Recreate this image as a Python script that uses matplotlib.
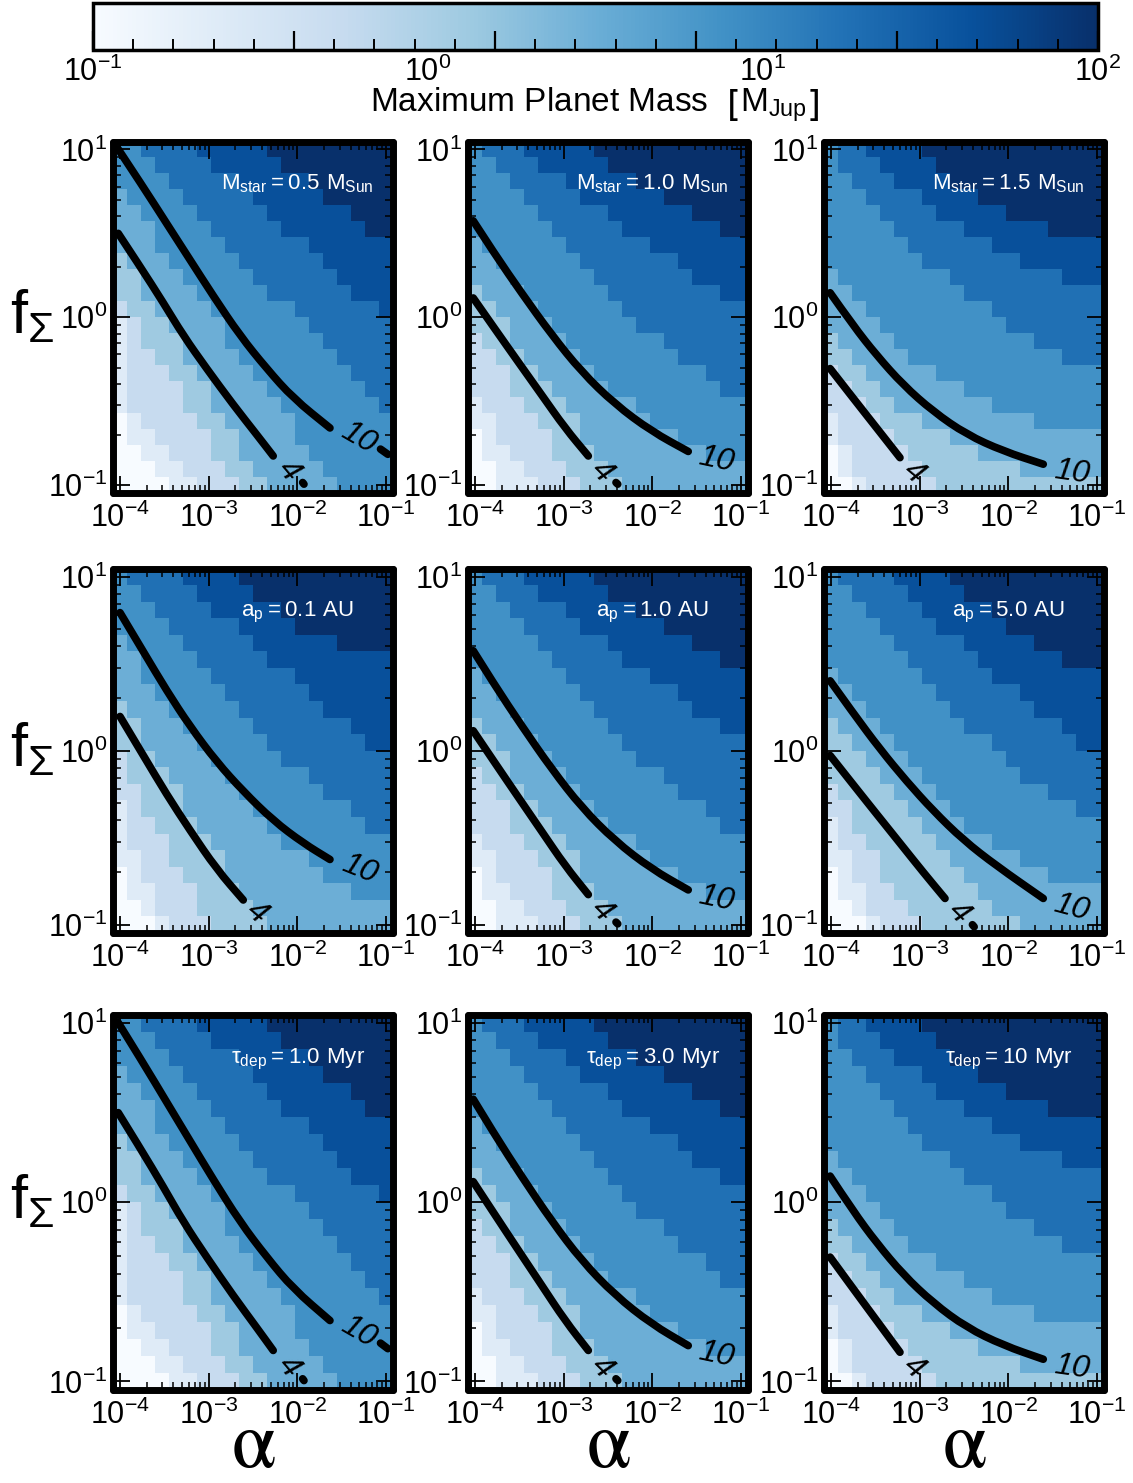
import numpy as np
import matplotlib
matplotlib.use("Agg")
import matplotlib.pyplot as plt
from matplotlib.colors import LogNorm
from matplotlib.ticker import NullFormatter, LogLocator
from matplotlib.path import Path
from matplotlib.patches import PathPatch

plt.rcParams['font.family'] = ['Liberation Sans Narrow', 'Liberation Sans', 'DejaVu Sans']
plt.rcParams['mathtext.fontset'] = 'custom'
plt.rcParams['mathtext.rm'] = 'Liberation Sans Narrow'
plt.rcParams['mathtext.it'] = 'Liberation Sans Narrow:italic'
plt.rcParams['mathtext.sf'] = 'Liberation Sans Narrow'
plt.rcParams['mathtext.bf'] = 'Liberation Sans Narrow:bold'

# ---------------- data ----------------
# grid sampling of the parameter space (cell centres, log10)
log_alpha_range = (-4.0, -1.0)   # 20 columns
log_fsig_range = (-1.0, 1.0)     # 22 rows
n_alpha, n_fsig = 20, 22

# discrete maximum planet masses [M_Jup] shown by the colour classes (index 0..8)
mass_levels = [0.1, 0.237, 0.562, 1.33, 3.16, 7.50, 17.8, 42.2, 100.0]

# rows from top (f_Sigma = 10) to bottom (f_Sigma = 0.1); each digit = mass level index
grid_mstar05 = [
    "55666677777888888888",
    "55566667777788888888",
    "55556666677777888888",
    "45555666667777788888",
    "44555566666777777888",
    "44455556666677777788",
    "44455555666666777777",
    "34445555566666677777",
    "33444555556666667777",
    "33444455555666666777",
    "23344445555556666667",
    "12334444555555666666",
    "12333444555555566666",
    "12233444455555556666",
    "12223344445555555666",
    "12222334444555555566",
    "12222334444455555556",
    "01222233444445555555",
    "01122223344445555555",
    "00112223344444555555",
    "00011222334444455555",
    "00001122233444445555",
]
grid_fiducial = [
    "56667777788888888888",
    "55666777778888888888",
    "55566667777788888888",
    "55556666777777888888",
    "55555666667777778888",
    "55555566666777777788",
    "45555556666667777777",
    "44555555666666677777",
    "44455555566666667777",
    "34445555556666666677",
    "33444555555666666666",
    "33344455555566666666",
    "23344445555555666666",
    "22334444555555566666",
    "22233444455555555666",
    "22233344445555555566",
    "12223334444455555555",
    "11222333444445555555",
    "01222233444444455555",
    "01122233344444444555",
    "00112223334444444444",
    "00111222333444444444",
]
grid_mstar15 = [
    "56677778888888888888",
    "56667777888888888888",
    "55666777788888888888",
    "55566667777888888888",
    "55556666777778888888",
    "55555666667777778888",
    "55555566666677777777",
    "55555556666666777777",
    "45555555566666666777",
    "44555555556666666666",
    "44455555555566666666",
    "44445555555556666666",
    "34444555555555566666",
    "33444455555555555666",
    "23344444555555555555",
    "22334444445555555555",
    "22233444444455555555",
    "12223334444444455555",
    "12222333344444444444",
    "01222233333444444444",
    "01222223333333444444",
    "00122222333333333333",
]
grid_a01 = [
    "56666777788888888888",
    "55666677778888888888",
    "55566667777788888888",
    "55556666677778888888",
    "45555666667777778888",
    "44555566666777777777",
    "44555556666667777777",
    "44455555666666777777",
    "34445555566666677777",
    "33444555556666666777",
    "33444455555666666677",
    "23344445555566666666",
    "23334444555555666666",
    "22333444455555566666",
    "12333444445555555666",
    "12233344444555555566",
    "12223334444455555555",
    "11223333444444555555",
    "01222333444444455555",
    "01122233344444444555",
    "00122233334444444444",
    "00012223333444444444",
]
grid_a5 = [
    "56666777788888888888",
    "55666677778888888888",
    "55566667777788888888",
    "55556666777778888888",
    "55555666667777788888",
    "55555566666777777888",
    "45555556666677777777",
    "44555555666666777777",
    "44455555566666677777",
    "34445555556666666777",
    "33444555555566666677",
    "33344455555556666666",
    "33334445555555666666",
    "23333444555555556666",
    "22333344455555555566",
    "12333334445555555555",
    "12233333444455555555",
    "11223333344444555555",
    "01223333334444445555",
    "01122333333444444444",
    "00122233333344444444",
    "00012223333333444444",
]
grid_tau1 = grid_mstar05
grid_tau3 = grid_fiducial
grid_tau10 = grid_mstar15
grid_a1 = grid_fiducial

# contour lines (log10 alpha, log10 f_Sigma)
c10_m05 = ([-4.02, -3.737, -3.474, -3.211, -2.948, -2.647, -2.346, -2.046, -1.632],
           [1.002, 0.776, 0.559, 0.343, 0.127, -0.109, -0.306, -0.483, -0.660])
c4_m05 = ([-4.02, -3.775, -3.512, -3.286, -3.023, -2.722, -2.459, -2.272],
          [0.50, 0.304, 0.087, -0.109, -0.306, -0.522, -0.699, -0.827])
c10_fid = ([-4.02, -3.775, -3.474, -3.135, -2.797, -2.422, -2.008, -1.595],
           [0.575, 0.375, 0.144, -0.105, -0.326, -0.518, -0.680, -0.800])
c4_fid = ([-4.02, -3.775, -3.512, -3.248, -2.985, -2.722],
          [0.115, -0.070, -0.267, -0.463, -0.660, -0.827])
c10_m15 = ([-4.01, -3.749, -3.485, -3.185, -2.847, -2.470, -2.057, -1.606],
           [0.146, -0.050, -0.227, -0.404, -0.562, -0.699, -0.798, -0.876])
c4_m15 = ([-4.01, -3.749, -3.485, -3.222],
          [-0.306, -0.483, -0.660, -0.837])
c10_a01 = ([-4.0, -3.737, -3.474, -3.211, -2.910, -2.610, -2.272, -1.933, -1.632],
           [0.794, 0.570, 0.346, 0.141, -0.064, -0.233, -0.401, -0.531, -0.625])
c4_a01 = ([-4.0, -3.737, -3.474, -3.211, -2.910, -2.610],
          [0.197, -0.027, -0.251, -0.457, -0.681, -0.858])
c10_a5 = ([-4.01, -3.749, -3.448, -3.147, -2.847, -2.508, -2.132, -1.606],
          [0.402, 0.216, 0.010, -0.176, -0.345, -0.513, -0.662, -0.849])
c4_a5 = ([-4.01, -3.749, -3.485, -3.222, -2.959, -2.714],
         [-0.027, -0.195, -0.364, -0.531, -0.699, -0.849])

# contour label positions (log10 alpha, log10 f, rotation) and pieces after the label
lab_m05 = {'10': (-1.315, -0.722, -30), '4': (-2.10, -0.916, -50)}
tail_m05 = [([-1.062, -0.979], [-0.786, -0.817]), ([-1.94, -1.925], [-0.985, -0.995])]
lab_fid = {'10': (-1.275, -0.853, -12), '4': (-2.572, -0.920, -45)}
tail_fid = [([-2.41, -2.39], [-0.985, -0.995])]
lab_m15 = {'10': (-1.286, -0.925, -8), '4': (-3.072, -0.925, -40)}
tail_m15 = []
lab_a01 = {'10': (-1.294, -0.681, -22), '4': (-2.459, -0.933, -40)}
tail_a01 = []
lab_a5 = {'10': (-1.286, -0.905, -15), '4': (-2.565, -0.933, -45)}
tail_a5 = [([-2.405, -2.385], [-1.000, -1.012])]

panel_titles = [r'$\mathregular{M_{star} = 0.5\ M_{Sun}}$',
                r'$\mathregular{M_{star} = 1.0\ M_{Sun}}$',
                r'$\mathregular{M_{star} = 1.5\ M_{Sun}}$',
                r'$\mathregular{a_p = 0.1\ AU}$',
                r'$\mathregular{a_p = 1.0\ AU}$',
                r'$\mathregular{a_p = 5.0\ AU}$',
                r'$\mathregular{\tau_{dep} = 1.0\ Myr}$',
                r'$\mathregular{\tau_{dep} = 3.0\ Myr}$',
                r'$\mathregular{\tau_{dep} = 10\ Myr}$']

panel_data = [
    (grid_mstar05, c10_m05, c4_m05, lab_m05, tail_m05),
    (grid_fiducial, c10_fid, c4_fid, lab_fid, tail_fid),
    (grid_mstar15, c10_m15, c4_m15, lab_m15, tail_m15),
    (grid_a01, c10_a01, c4_a01, lab_a01, tail_a01),
    (grid_a1, c10_fid, c4_fid, lab_fid, tail_fid),
    (grid_a5, c10_a5, c4_a5, lab_a5, tail_a5),
    (grid_tau1, c10_m05, c4_m05, lab_m05, tail_m05),
    (grid_tau3, c10_fid, c4_fid, lab_fid, tail_fid),
    (grid_tau10, c10_m15, c4_m15, lab_m15, tail_m15),
]

# ---------------- layout ----------------
W, H = 1133, 1483
fig = plt.figure(figsize=(W / 100, H / 100), dpi=100)


def px_axes(l, t, w, h):
    return fig.add_axes([l / W, 1 - (t + h) / H, w / W, h / H])


def curve_through(ax, la, lf, lw):
    """Draw a smooth (quadratic Bezier) line through the read points."""
    la = np.asarray(la, float)
    lf = np.asarray(lf, float)
    verts = [(la[0], lf[0])]
    codes = [Path.MOVETO]
    for i in range(1, len(la) - 1):
        verts += [(la[i], lf[i]), ((la[i] + la[i + 1]) / 2, (lf[i] + lf[i + 1]) / 2)]
        codes += [Path.CURVE3, Path.CURVE3]
    verts.append((la[-1], lf[-1]))
    codes.append(Path.LINETO)
    verts = 10 ** np.array(verts)
    patch = PathPatch(Path(verts, codes), transform=ax.transData, fill=False,
                      edgecolor='k', lw=lw, capstyle='round', joinstyle='round')
    ax.add_patch(patch)


col_left = [113, 468, 824]
col_w = 280
row_top = [141.5, 568.5, 1014.5]
row_h = [351.5, 364.5, 375.5]

norm = LogNorm(vmin=0.1, vmax=100)
cmap = plt.get_cmap('Blues')

da = (log_alpha_range[1] - log_alpha_range[0]) / (n_alpha - 1)
df = (log_fsig_range[1] - log_fsig_range[0]) / (n_fsig - 1)
a_edges = 10 ** np.linspace(log_alpha_range[0] - da / 2, log_alpha_range[1] + da / 2, n_alpha + 1)
f_edges = 10 ** np.linspace(log_fsig_range[0] - df / 2, log_fsig_range[1] + df / 2, n_fsig + 1)

lw_c = 5.5
for i, (grid, c10, c4, labs, tails) in enumerate(panel_data):
    r, c = divmod(i, 3)
    ax = px_axes(col_left[c], row_top[r], col_w, row_h[r])
    M = np.array([[mass_levels[int(ch)] for ch in row] for row in grid])[::-1]
    ax.pcolormesh(a_edges, f_edges, M, cmap=cmap, norm=norm, shading='flat')
    ax.set_xscale('log')
    ax.set_yscale('log')
    ax.set_xlim(a_edges[0], a_edges[-1])
    ax.set_ylim(f_edges[0], f_edges[-1])
    for cl in (c10, c4):
        curve_through(ax, cl[0], cl[1], lw_c)
    for tx, ty in tails:
        ax.plot(10 ** np.array(tx), 10 ** np.array(ty), color='k', lw=lw_c,
                solid_capstyle='round')
    for txt, (lx, ly, rot) in labs.items():
        ax.text(10 ** lx, 10 ** ly, txt, rotation=rot, ha='center', va='center',
                fontsize=23, style='italic', color='k', rotation_mode='anchor')
    ax.text(0.66, 0.88, panel_titles[i], color='white', transform=ax.transAxes,
            ha='center', va='center', fontsize=16)
    ax.xaxis.set_major_locator(LogLocator(base=10, numticks=10))
    ax.xaxis.set_minor_locator(LogLocator(base=10, subs=np.arange(2, 10), numticks=10))
    ax.yaxis.set_major_locator(LogLocator(base=10, numticks=10))
    ax.yaxis.set_minor_locator(LogLocator(base=10, subs=np.arange(2, 10), numticks=10))
    ax.xaxis.set_minor_formatter(NullFormatter())
    ax.yaxis.set_minor_formatter(NullFormatter())
    ax.tick_params(which='both', direction='in', top=True, right=True, colors='k')
    ax.tick_params(which='major', length=12, width=1.3, labelsize=22)
    ax.tick_params(which='minor', length=6, width=1.1)
    ax.tick_params(axis='x', which='major', pad=7)
    ax.tick_params(axis='y', which='major', pad=4)
    for s in ax.spines.values():
        s.set_linewidth(5)
        s.set_capstyle('round')

# f_Sigma labels and alpha labels
for r in range(3):
    yc = row_top[r] + row_h[r] / 2
    fig.text(10 / W, 1 - yc / H, r'$\mathregular{f_{\Sigma}}$', fontsize=44,
             ha='left', va='center')
for c in range(3):
    xc = col_left[c] + col_w / 2
    fig.text(xc / W, 1 - 1467 / H, r'$\mathrm{\alpha}$', fontsize=58,
             math_fontfamily='stix', ha='center', va='baseline')

# ---------------- colour bar ----------------
cax = px_axes(93, 3, 1005, 47)
sm = plt.cm.ScalarMappable(norm=norm, cmap=cmap)
cb = fig.colorbar(sm, cax=cax, orientation='horizontal')
cb.outline.set_linewidth(2.5)
cbar_long = 10 ** (-1 + 0.6 * np.arange(6))
cbar_short = [10 ** (-1 + 0.12 * k) for k in range(26) if k % 5]
cax.xaxis.set_ticks(cbar_long)
cax.xaxis.set_ticks(cbar_short, minor=True)
cax.xaxis.set_major_formatter(NullFormatter())
cax.xaxis.set_minor_formatter(NullFormatter())
cax.tick_params(which='both', direction='in', bottom=True, top=False, colors='k')
cax.tick_params(which='major', length=14, width=1.6)
cax.tick_params(which='minor', length=8, width=1.4)
cbar_labels = [(0.1, r'$\mathregular{10^{-1}}$'), (1, r'$\mathregular{10^{0}}$'),
               (10, r'$\mathregular{10^{1}}$'), (100, r'$\mathregular{10^{2}}$')]
for v, s in cbar_labels:
    cax.text(v, -0.15, s, transform=cax.get_xaxis_transform(), ha='center', va='top',
             fontsize=22)
fig.text(595 / W, 1 - 105 / H, r'Maximum Planet Mass  $\left[\mathregular{M_{Jup}}\right]$',
         ha='center', va='center', fontsize=24)

fig.savefig('out.png', dpi=100)
